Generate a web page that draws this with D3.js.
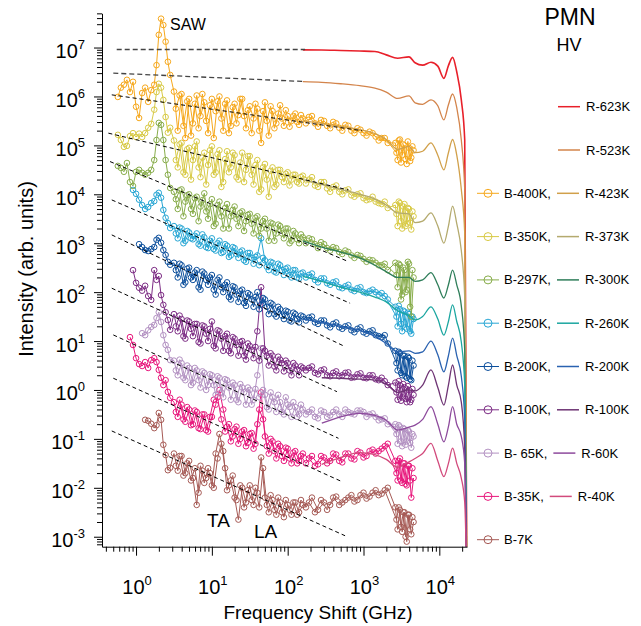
<!DOCTYPE html>
<html>
<head>
<meta charset="utf-8">
<script src="https://cdn.jsdelivr.net/npm/d3@7"></script>
<style>
  body { margin: 0; background: #fff; }
  svg { font-family: "Liberation Sans", Arial, sans-serif; }
</style>
</head>
<body>
<svg id="chart" width="641" height="626"></svg>
<script>
'use strict';

// Values as log10 (frequency in GHz, intensity in arb. units)

// Brillouin spectra, first scan, on one shared frequency grid
var bLogFreq = [-0.24,-0.2,-0.16,-0.12,-0.08,-0.04,0,0.04,0.08,0.12,0.16,0.2,0.24,0.27,0.3,0.33,0.36,0.39,0.42,0.45,
  0.5,0.55,0.6,0.65,0.7,0.75,0.8,0.85,0.9,0.95,1,1.05,1.1,1.15,1.2,1.25,1.3,1.35,1.4,1.45,1.5,1.55,1.6,1.65,1.7,1.75,1.8,1.85,1.9,1.95,2,2.05,2.1,2.15,2.2,
  2.28,2.36,2.44,2.52,2.6,2.68,2.76,2.84,2.92,3,3.08,3.16,3.24,3.32,
  3.42,3.45,3.48,3.51,3.54,3.57,3.6,3.63,3.66]

var b400 = [5.99,6.18,6.24,6.34,6.09,6.30,5.79,5.56,6.07,6.18,5.89,6.13,6.24,6.64,7.26,7.59,7.46,7.12,6.71,6.44,
  6.10,5.30,6.05,5.15,5.95,5.45,6.02,5.60,5.88,5.25,5.95,5.70,6.00,5.30,5.92,5.40,5.85,5.62,5.95,5.35,5.80,5.55,5.75,5.05,5.88,5.20,5.70,5.45,5.82,5.40,5.60,5.50,5.65,5.42,5.55,
  5.58,5.45,5.52,5.40,5.48,5.36,5.42,5.30,5.35,5.25,5.28,5.18,5.15,5.05,
  5.05,4.70,5.12,4.80,5.00,4.62,4.95,4.75,4.90]
var b350 = [5.215,5.11,4.97,4.99,5.19,5.25,5.17,5.24,5.17,5.25,5.36,5.44,5.73,6.09,6.26,6.18,5.93,5.58,5.26,5.36,
  5.10,4.55,5.05,4.40,4.95,4.70,5.08,4.35,4.85,4.60,4.98,4.45,4.90,4.25,4.88,4.55,4.80,4.30,4.85,4.50,4.78,4.20,4.70,4.10,4.62,3.95,4.55,4.20,4.50,4.25,4.45,4.30,4.40,4.22,4.38,
  4.30,4.18,4.25,4.12,4.15,4.05,4.08,3.98,4.00,3.92,3.90,3.85,3.80,3.72,
  3.78,3.35,3.82,3.30,3.80,3.40,3.70,3.28,3.55]
var b297 = [4.58,4.54,4.46,4.64,4.25,4.17,4.46,4.50,4.44,4.40,4.44,4.50,4.70,5.11,5.46,5.42,5.11,4.70,4.40,4.13,
  4.05,3.70,4.10,3.85,4.00,3.60,3.95,3.75,4.02,3.50,3.90,3.40,3.85,3.30,3.80,3.55,3.75,3.35,3.65,3.45,3.60,3.20,3.55,3.30,3.50,3.05,3.40,3.20,3.35,3.10,3.30,3.05,3.20,3.00,3.12,
  3.10,2.98,3.02,2.90,2.92,2.82,2.85,2.75,2.76,2.68,2.66,2.60,2.55,2.45,
  2.60,2.10,2.55,1.95,2.45,2.05,2.58,1.50,2.30]
var b250 = [null,null,null,null,null,4.09,4.01,3.89,3.78,3.70,3.74,3.82,3.86,3.99,4.03,3.93,3.68,3.52,3.41,3.31,
  3.35,3.10,3.30,3.05,3.22,3.08,3.20,2.95,3.12,2.90,3.10,2.85,3.05,2.82,2.95,2.75,2.90,2.70,2.85,2.62,2.80,2.58,2.75,3.10,2.65,2.45,2.60,2.40,2.55,2.35,2.50,2.30,2.45,2.28,2.40,
  2.35,2.25,2.28,2.18,2.20,2.10,2.12,2.05,2.08,2.00,2.02,2.00,1.98,1.85,
  1.70,1.30,1.65,1.20,1.60,1.25,1.55,1.15,1.45]
var b200 = [null,null,null,null,null,null,null,2.98,2.92,2.86,2.84,2.88,2.92,3.07,3.11,3.01,2.86,2.76,2.62,2.56,
  2.60,2.30,2.55,2.20,2.50,2.25,2.45,2.05,2.38,2.15,2.35,1.95,2.30,2.00,2.20,1.85,2.10,1.80,2.05,1.72,1.95,1.70,2.00,1.75,1.85,1.55,1.75,1.50,1.65,1.45,1.60,1.40,1.55,1.38,1.50,
  1.48,1.38,1.42,1.32,1.35,1.28,1.30,1.22,1.25,1.18,1.20,1.12,1.08,0.95,
  0.80,0.40,0.75,0.30,0.70,0.25,0.65,0.20,0.50]
var b100 = [null,null,null,null,null,2.45,2.19,2.09,2.03,2.13,1.92,1.84,2.45,2.25,2.33,1.94,1.74,1.59,1.43,1.23,
  1.55,1.20,1.45,1.05,1.40,1.10,1.35,0.95,1.30,1.00,1.40,0.85,1.20,0.80,1.15,0.75,1.05,0.70,1.00,0.62,0.90,0.65,1.20,2.10,0.80,0.50,0.70,0.40,0.62,0.38,0.55,0.30,0.50,0.30,0.45,
  0.45,0.35,0.40,0.30,0.35,0.28,0.35,0.25,0.32,0.25,0.30,0.22,0.25,0.10,
  0.15,-0.20,0.10,-0.15,0.05,-0.25,0.00,-0.20,-0.10]
var b65 = [null,null,null,null,null,null,null,null,1.16,1.12,1.22,1.29,1.33,1.47,1.59,1.39,1.12,0.92,0.82,0.61,
  0.60,0.30,0.55,0.20,0.45,0.15,0.40,0.05,0.35,0.10,0.30,-0.10,0.25,-0.15,0.20,-0.20,0.10,-0.25,0.05,-0.30,0.00,-0.20,0.30,0.85,-0.10,-0.40,-0.15,-0.45,-0.25,-0.50,-0.30,-0.55,-0.35,-0.50,-0.40,
  -0.45,-0.55,-0.42,-0.55,-0.45,-0.50,-0.40,-0.48,-0.42,-0.45,-0.50,-0.55,-0.60,-0.70,
  -0.70,-1.10,-0.75,-1.15,-0.80,-1.05,-0.85,-1.18,-0.95]
var b35 = [null,null,null,null,1.08,0.92,0.65,0.53,0.49,0.57,0.45,0.61,0.65,0.57,0.41,0.25,0.10,0.20,-0.04,-0.16,
  -0.25,-0.55,-0.30,-0.65,-0.40,-0.70,-0.45,-0.80,-0.50,-0.85,-0.55,-0.30,0.00,-0.40,-0.75,-1.05,-0.80,-1.10,-0.85,-1.15,-0.90,-1.20,-0.70,-0.05,-0.95,-1.30,-1.05,-1.40,-1.15,-1.45,-1.20,-1.50,-1.25,-1.45,-1.30,
  -1.40,-1.55,-1.35,-1.50,-1.30,-1.45,-1.30,-1.40,-1.25,-1.38,-1.25,-1.30,-1.20,-1.10,
  -1.45,-1.85,-1.40,-1.90,-1.50,-1.95,-1.55,-2.20,-1.80]
var b7 = [null,null,null,null,null,null,null,null,null,-0.61,-0.63,-0.69,-0.78,-0.72,-0.47,-0.61,-1.12,-1.33,-1.64,-1.59,
  -1.30,-1.65,-1.35,-1.70,-1.45,-1.80,-2.35,-1.55,-1.90,-1.60,-1.95,-1.30,-0.90,-1.25,-2.05,-1.85,-2.20,-2.65,-2.00,-2.30,-1.95,-2.35,-2.10,-1.38,-2.20,-2.50,-2.25,-2.55,-2.30,-2.60,-2.35,-2.55,-2.30,-2.50,-2.35,
  -2.30,-2.50,-2.25,-2.45,-2.20,-2.35,-2.25,-2.15,-2.25,-2.10,-2.18,-2.05,-2.12,-2.00,
  -2.40,-2.85,-2.45,-2.90,-2.50,-3.10,-2.55,-2.95,-2.70]

// Brillouin spectra, second (overlapping) scan
var bLogFreq2 = [0.525,0.575,0.625,0.675,0.725,0.775,0.825,0.875,0.925,0.975,1.025,1.075,1.125,1.175,1.225,1.275,1.325,1.375,1.425,1.475,1.525,1.575,1.625,1.675,1.725,1.775,1.825,1.875,1.925,1.975,2.025,2.075,2.125,2.175,
  2.24,2.32,2.4,2.48,2.56,2.64,2.72,2.8,2.88,2.96,3.04,3.12,3.2,3.28,
  3.435,3.465,3.495,3.525,3.555,3.585,3.615,3.645]

var b400b = [5.75,6.02,5.40,5.90,5.20,5.85,5.35,6.05,5.50,5.82,5.15,5.90,5.55,5.85,5.25,5.78,5.45,5.95,5.60,5.72,5.25,5.85,5.30,5.70,5.50,5.80,5.35,5.65,5.55,5.72,5.38,5.60,5.48,5.62,
  5.45,5.60,5.38,5.50,5.35,5.45,5.30,5.40,5.25,5.32,5.20,5.25,5.10,5.15,
  4.85,5.10,4.65,5.02,4.72,5.08,4.68,4.98]
var b350b = [4.70,5.02,4.45,4.92,4.30,4.98,4.55,4.75,4.20,4.90,4.40,4.82,4.15,4.72,4.45,4.85,4.35,4.65,4.25,4.78,4.40,4.60,4.05,4.55,4.30,4.48,4.15,4.50,4.35,4.42,4.18,4.40,4.25,4.35,
  4.22,4.35,4.15,4.25,4.05,4.18,4.00,4.10,3.95,4.02,3.88,3.95,3.82,3.85,
  3.60,3.85,3.45,3.75,3.35,3.72,3.42,3.65]
var b297b = [3.90,4.08,3.55,3.98,3.70,3.92,3.45,3.88,3.65,3.80,3.35,3.78,3.55,3.72,3.30,3.68,3.50,3.62,3.25,3.58,3.40,3.52,3.15,3.45,3.30,3.42,3.05,3.38,3.20,3.30,3.00,3.25,3.08,3.18,
  3.00,3.08,2.90,2.98,2.85,2.90,2.78,2.82,2.70,2.74,2.62,2.65,2.55,2.58,
  2.35,2.58,1.85,2.50,2.00,2.62,1.70,2.45]
var b250b = [3.20,3.32,3.00,3.25,3.10,3.15,2.98,3.18,2.92,3.05,2.88,3.00,2.80,2.98,2.72,2.92,2.78,2.82,2.65,2.80,2.70,2.72,2.55,2.70,2.52,2.62,2.42,2.58,2.45,2.48,2.35,2.45,2.30,2.38,
  2.30,2.38,2.20,2.28,2.15,2.22,2.08,2.15,2.02,2.10,1.98,2.05,1.95,1.92,
  1.50,1.72,1.35,1.62,1.28,1.58,1.20,1.50]
var b200b = [2.45,2.58,2.15,2.48,2.30,2.40,2.10,2.42,2.25,2.30,2.05,2.25,2.10,2.15,1.90,2.12,1.95,2.02,1.78,1.98,1.85,1.90,1.65,1.88,1.70,1.78,1.55,1.70,1.52,1.62,1.42,1.58,1.45,1.52,
  1.42,1.50,1.35,1.42,1.28,1.38,1.25,1.32,1.18,1.28,1.15,1.22,1.10,1.12,
  0.55,0.78,0.35,0.70,0.28,0.68,0.22,0.60]
var b100b = [1.30,1.52,1.10,1.42,1.25,1.35,0.98,1.32,1.15,1.25,0.90,1.22,1.05,1.10,0.80,1.08,0.92,0.98,0.70,0.95,0.82,0.88,0.60,0.85,0.70,0.75,0.48,0.68,0.55,0.60,0.40,0.55,0.42,0.48,
  0.40,0.48,0.32,0.42,0.28,0.38,0.30,0.36,0.26,0.34,0.24,0.30,0.20,0.18,
  -0.05,0.18,-0.22,0.12,-0.18,0.08,-0.25,0.02]
var b65b = [0.40,0.62,0.25,0.50,0.10,0.45,0.20,0.38,0.00,0.32,0.10,0.28,-0.05,0.22,0.05,0.15,-0.20,0.12,-0.05,0.05,-0.30,0.02,-0.15,0.00,-0.35,-0.05,-0.25,-0.10,-0.45,-0.15,-0.35,-0.25,-0.55,-0.30,
  -0.50,-0.40,-0.58,-0.45,-0.52,-0.40,-0.55,-0.45,-0.50,-0.42,-0.55,-0.48,-0.62,-0.58,
  -0.90,-0.72,-1.05,-0.78,-1.12,-0.82,-1.08,-0.90]
var b35b = [-0.45,-0.20,-0.60,-0.35,-0.72,-0.42,-0.78,-0.50,-0.82,-0.55,-0.20,-0.15,-0.60,-0.85,-0.70,-0.95,-0.75,-1.00,-0.82,-1.08,-0.88,-1.10,-0.40,-0.60,-1.15,-1.00,-1.25,-1.10,-1.35,-1.18,-1.40,-1.28,-1.50,-1.35,
  -1.50,-1.35,-1.52,-1.38,-1.45,-1.32,-1.48,-1.30,-1.42,-1.28,-1.35,-1.22,-1.25,-1.15,
  -1.70,-1.45,-1.85,-1.50,-1.92,-1.55,-1.85,-1.60]
var b7b = [-1.55,-1.35,-1.75,-1.50,-1.85,-1.60,-2.10,-1.65,-1.80,-1.70,-2.00,-1.40,-1.10,-1.60,-1.95,-1.75,-2.25,-1.95,-2.40,-2.05,-2.25,-2.00,-2.40,-1.60,-2.35,-2.15,-2.45,-2.20,-2.50,-2.25,-2.45,-2.30,-2.55,-2.25,
  -2.40,-2.20,-2.45,-2.30,-2.35,-2.18,-2.30,-2.20,-2.28,-2.15,-2.22,-2.10,-2.15,-2.05,
  -2.65,-2.40,-2.80,-2.50,-3.00,-2.55,-2.85,-2.60]

// Raman spectra share another grid
var rLogFreq = [2.2,2.45,2.7,2.95,3.15,3.3,3.45,3.6,3.68,3.78,3.89,3.98,4.06,4.12,4.175,4.23,4.29,4.335,4.363]

var r623 = [6.953,6.95,6.94,6.93,6.92,6.85,6.78,6.81,6.69,6.64,6.70,6.62,6.37,6.63,6.80,6.50,5.93,5.11,-4]
var r523 = [6.305,6.29,6.26,6.22,6.17,6.09,5.96,6.01,5.87,5.84,5.93,5.81,5.52,5.83,6.05,5.77,5.11,4.09,-4]
var r423 = [5.50,5.45,5.39,5.32,5.24,5.12,4.92,4.98,4.85,4.88,5.05,4.80,4.50,4.85,5.12,4.80,4.10,3.2,-4]
var r373 = [4.30,4.20,4.10,4.00,3.90,3.78,3.62,3.60,3.42,3.45,3.62,3.35,3.00,3.35,3.76,3.40,2.85,1.9,-4]
var r300 = [3.05,2.92,2.82,2.70,2.55,2.42,2.30,2.30,2.22,2.25,2.40,2.15,1.88,2.15,2.45,2.15,1.72,0.8,-4]
var r260 = [2.32,2.22,2.10,2.00,1.90,1.80,1.62,1.52,1.43,1.50,1.70,1.45,1.12,1.40,1.74,1.40,0.98,0.1,-4]
var r200 = [1.45,1.38,1.30,1.22,1.10,0.95,0.78,0.80,0.75,0.78,1.00,0.72,0.37,0.70,1.06,0.70,0.28,-0.6,-4]
var r100 = [null,0.25,0.24,0.22,0.20,0.12,-0.05,0.00,-0.02,0.10,0.41,0.05,-0.31,0.10,0.51,0.10,-0.25,-1.2,-4]
var r60 = [null,-0.68,-0.55,-0.48,-0.52,-0.62,-0.82,-0.76,-0.72,-0.60,-0.34,-0.70,-1.06,-0.75,-0.34,-0.70,-0.95,-1.5,-4]
var r40 = [null,-1.52,-1.38,-1.28,-1.32,-1.42,-1.58,-1.47,-1.40,-1.30,-1.09,-1.45,-1.77,-1.50,-1.19,-1.50,-1.80,-2.3,-4]

// power-law guides: [logF start, logI start, logF end, logI end]
var fit623 = [-0.255, 6.96, 2.23, 6.96]
var fit523 = [-0.3, 6.476, 2.23, 6.305]
var fit400 = [-0.32, 6.033, 2.98, 5.30]
var fit350 = [-0.365, 5.25, 2.80, 4.088]
var fit297 = [-0.343, 4.669, 2.797, 2.627]
var fit250 = [-0.32, 3.885, 2.823, 1.773]
var fit200 = [-0.32, 3.17, 2.757, 0.886]
var fit100 = [-0.32, 2.08, 2.65, -0.035]
var fit65 = [-0.3, 1.125, 2.67, -0.988]
var fit35 = [-0.3, 0.24, 2.71, -1.87]
var fit7 = [-0.32, -0.838, 2.757, -2.98]

var bNames = ['B-400K', 'B-350K', 'B-297K', 'B-250K', 'B-200K', 'B-100K', 'B-65K', 'B-35K', 'B-7K']
var rNames = ['R-623K', 'R-523K', 'R-423K', 'R-373K', 'R-300K', 'R-260K', 'R-200K', 'R-100K', 'R-60K', 'R-40K']

var legendB = [null, null, 'B-400K,', 'B-350K,', 'B-297K,', 'B-250K,', 'B-200K,', 'B-100K,', 'B- 65K,', 'B-35K,', 'B-7K']
var legendR = ['R-623K', 'R-523K', 'R-423K', 'R-373K', 'R-300K', 'R-260K', 'R-200K', 'R-100K', 'R-60K', 'R-40K', null]

var xTickExp = [0, 1, 2, 3, 4]
var yTickExp = [-3, -2, -1, 0, 1, 2, 3, 4, 5, 6, 7]

// styles
var colors = {
  'B-400K': '#f6a81c', 'B-350K': '#d8ca46', 'B-297K': '#88ad4b', 'B-250K': '#27a6d4',
  'B-200K': '#0c4f9c', 'B-100K': '#7d2d85', 'B-65K': '#b391c2', 'B-35K': '#e8177c', 'B-7K': '#a65a55',
  'R-623K': '#e8202a', 'R-523K': '#d3844b', 'R-423K': '#d1a04a', 'R-373K': '#b4aa6e',
  'R-300K': '#2f7e5a', 'R-260K': '#1ba6a0', 'R-200K': '#2a62b0', 'R-100K': '#6e3474',
  'R-60K': '#8d4a9c', 'R-40K': '#d24a7c'
}

var bSeries = [b400, b350, b297, b250, b200, b100, b65, b35, b7]
var bSeries2 = [b400b, b350b, b297b, b250b, b200b, b100b, b65b, b35b, b7b]
var rSeries = [r623, r523, r423, r373, r300, r260, r200, r100, r60, r40]
var fits = [fit623, fit523, fit400, fit350, fit297, fit250, fit200, fit100, fit65, fit35, fit7]

var pow10 = function(v) { return Math.pow(10, v) }

var svg = d3.select('#chart')

var plotLeft = 102, plotRight = 467, plotTop = 13.3, plotBottom = 546.7

var x = d3.scaleLog()
  .domain([pow10(-0.449), pow10(4.365)])
  .range([plotLeft, plotRight])

var y = d3.scaleLog()
  .domain([pow10(-3.204), pow10(7.70)])
  .range([plotBottom, plotTop])

svg.append('defs').append('clipPath')
    .attr('id', 'plot-clip')
  .append('rect')
    .attr('x', plotLeft)
    .attr('y', plotTop)
    .attr('width', plotRight - plotLeft + 1)
    .attr('height', plotBottom - plotTop)

var plot = svg.append('g').attr('clip-path', 'url(#plot-clip)')

var line = d3.line()
  .defined(function(d) { return d[1] != null })
  .x(function(d) { return x(pow10(d[0])) })
  .y(function(d) { return y(pow10(d[1])) })

function drawScan(g, freqs, vals, col) {
  var pts = freqs.map(function(f, j) { return [f, vals[j]] })
  g.append('path')
    .datum(pts)
    .attr('d', line)
    .style('fill', 'none')
    .style('stroke', col)
    .style('stroke-width', 1)
  g.append('g').selectAll('circle')
      .data(pts.filter(function(d) { return d[1] != null }))
    .enter().append('circle')
      .attr('cx', function(d) { return x(pow10(d[0])) })
      .attr('cy', function(d) { return y(pow10(d[1])) })
      .attr('r', 2.8)
      .style('fill', 'none')
      .style('stroke', col)
      .style('stroke-width', 1)
}

// Brillouin: lowest temperature first so warmer traces sit on top
for (var i = bSeries.length - 1; i >= 0; i--) {
  var g = plot.append('g')
  var col = colors[bNames[i]]
  drawScan(g, bLogFreq2, bSeries2[i], col)
  drawScan(g, bLogFreq, bSeries[i], col)
}

// Raman
var rLine = d3.line()
  .defined(function(d) { return d[1] != null })
  .x(function(d) { return x(pow10(d[0])) })
  .y(function(d) { return y(pow10(d[1])) })
  .curve(d3.curveMonotoneX)

rSeries.forEach(function(s, i) {
  plot.append('path')
    .datum(rLogFreq.map(function(f, j) { return [f, s[j]] }))
    .attr('d', rLine)
    .style('fill', 'none')
    .style('stroke', colors[rNames[i]])
    .style('stroke-width', i === 0 ? 1.6 : 1.3)
})

// Dashed guides
fits.forEach(function(f, i) {
  plot.append('line')
    .attr('x1', x(pow10(f[0])))
    .attr('y1', y(pow10(f[1])))
    .attr('x2', x(pow10(f[2])))
    .attr('y2', y(pow10(f[3])))
    .style('stroke', i < 2 ? '#444' : '#000')
    .style('stroke-width', i < 2 ? 1.3 : 1)
    .style('stroke-dasharray', i < 2 ? '5,3' : '4,3')
})

// Axes
// ----
function minorTicks(scale, lo, hi) {
  var out = []
  var d = scale.domain()
  for (var e = lo; e <= hi; e++) {
    for (var k = 2; k <= 9; k++) {
      var v = k * pow10(e)
      if (v >= d[0] && v <= d[1]) out.push(v)
    }
  }
  return out
}

var xAxisG = svg.append('g').attr('transform', 'translate(0,' + plotBottom + ')')
xAxisG.call(d3.axisBottom(x).tickValues(minorTicks(x, -1, 4)).tickSize(5).tickSizeOuter(0).tickFormat(''))
xAxisG.append('g').call(d3.axisBottom(x).tickValues(xTickExp.map(pow10)).tickSize(9).tickSizeOuter(0).tickFormat(''))
  .select('.domain').remove()

var yAxisG = svg.append('g').attr('transform', 'translate(' + plotLeft + ',0)')
yAxisG.call(d3.axisLeft(y).tickValues(minorTicks(y, -4, 7)).tickSize(5).tickSizeOuter(0).tickFormat(''))
yAxisG.append('g').call(d3.axisLeft(y).tickValues(yTickExp.map(pow10)).tickSize(8).tickSizeOuter(0).tickFormat(''))
  .select('.domain').remove()

svg.selectAll('.domain, .tick line').style('stroke', '#000').style('stroke-width', 1)

function powLabel(sel, e) {
  sel.append('tspan').text('10')
  sel.append('tspan').attr('dy', -9).style('font-size', '13px').text(e)
}

xTickExp.forEach(function(e) {
  var t = svg.append('text')
    .attr('x', x(pow10(e)) + 1)
    .attr('y', 593.5)
    .attr('text-anchor', 'middle')
    .style('font-size', '20px')
  powLabel(t, e)
})

yTickExp.forEach(function(e) {
  var t = svg.append('text')
    .attr('x', 85)
    .attr('y', y(pow10(e)) + 10.5)
    .attr('text-anchor', 'end')
    .style('font-size', '20px')
  powLabel(t, e)
})

svg.append('text')
  .attr('transform', 'translate(33,269) rotate(-90)')
  .attr('text-anchor', 'middle')
  .style('font-size', '20px')
  .text('Intensity (arb. units)')

svg.append('text')
  .attr('x', 318)
  .attr('y', 619)
  .attr('text-anchor', 'middle')
  .style('font-size', '19px')
  .text('Frequency Shift (GHz)')

// Annotations
svg.append('text').attr('x', 170).attr('y', 30).style('font-size', '16px').text('SAW')
svg.append('text').attr('x', 207).attr('y', 526.5).style('font-size', '19px').text('TA')
svg.append('text').attr('x', 254).attr('y', 537.7).style('font-size', '19px').text('LA')
svg.append('text').attr('x', 570).attr('y', 25).attr('text-anchor', 'middle').style('font-size', '23px').text('PMN')
svg.append('text').attr('x', 569).attr('y', 51).attr('text-anchor', 'middle').style('font-size', '18px').text('HV')

// Legend
// ------
var legend = svg.append('g').style('font-size', '13px')
legendB.forEach(function(b, i) {
  var ly = 106.7 + i * 43.3
  var rx = 558
  if (b) {
    var col = colors[b.replace(/[, ]/g, '')]
    legend.append('line')
      .attr('x1', 477).attr('x2', 499).attr('y1', ly).attr('y2', ly)
      .style('stroke', col).style('stroke-width', 1)
    legend.append('circle')
      .attr('cx', 488).attr('cy', ly).attr('r', 4)
      .style('fill', 'none').style('stroke', col).style('stroke-width', 1)
    var bt = legend.append('text')
      .attr('x', 504).attr('y', ly + 4.5)
      .text(b)
    rx = 504 + bt.node().getComputedTextLength() + 6
  }
  var r = legendR[i]
  if (r) {
    legend.append('line')
      .attr('x1', rx).attr('x2', rx + 22).attr('y1', ly).attr('y2', ly)
      .style('stroke', colors[r]).style('stroke-width', 1.5)
    legend.append('text')
      .attr('x', rx + 28).attr('y', ly + 4.5)
      .text(r)
  }
})
</script>
</body>
</html>
